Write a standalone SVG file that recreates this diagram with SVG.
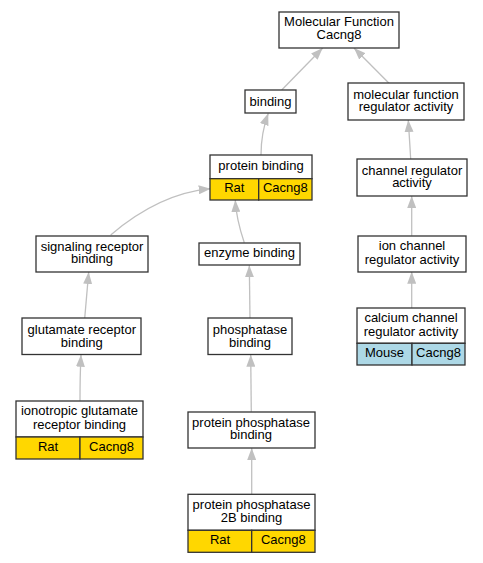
<svg xmlns="http://www.w3.org/2000/svg" width="483" height="563" viewBox="0 0 483 563">
<defs>
<style>
rect{stroke:#333;stroke-width:1.3;fill:#fff}
rect.rat{fill:#ffd700}
rect.mouse{fill:#add8e6}
text{font-family:"Liberation Sans",Arial,sans-serif;font-size:13px;fill:#000;text-anchor:middle}
.e path{fill:none;stroke:#c0c0c0;stroke-width:1.3;marker-end:url(#a)}
</style>
<marker id="a" viewBox="0 0 12 9" refX="12" refY="4.5" markerWidth="12" markerHeight="9" orient="auto" markerUnits="userSpaceOnUse"><path d="M0,0 L12,4.5 L0,9 z" fill="#c0c0c0" stroke="none"/></marker>
</defs>
<rect x="0" y="0" width="483" height="563" style="fill:#fff;stroke:none"/>
<g class="e" id="edges">
<path d="M281.7,90 L322.7,48"/>
<path d="M389,83.3 L354,48"/>
<path d="M261,155 C261,140 264,125 268.3,113.3"/>
<path d="M410.7,159 L408.3,120"/>
<path d="M411.7,235.7 L411.7,196"/>
<path d="M411.7,308 L411.7,271.7"/>
<path d="M110.7,235 C140,210 175,192 210.7,188.7"/>
<path d="M244.3,242.7 C240,230 236,215 235.3,200"/>
<path d="M84.7,318.3 L88.7,272"/>
<path d="M250,318.3 L249.3,265.3"/>
<path d="M80,400.7 C80,380 80.5,365 81,354.7"/>
<path d="M251.3,411.7 L250.7,354.7"/>
<path d="M251.7,494.3 L251.7,448"/>
</g>
<g id="mf"><rect x="279" y="12" width="120" height="36"/><text x="339" y="26.2">Molecular Function<tspan x="339" dy="12.6">Cacng8</tspan></text></g>
<g id="binding"><rect x="245" y="90" width="51" height="23"/><text x="270.5" y="105.5">binding</text></g>
<g id="mfreg"><rect x="348" y="83" width="116" height="37"/><text x="406" y="98.5">molecular function<tspan x="406" dy="12.5">regulator activity</tspan></text></g>
<g id="protbind"><rect x="210" y="155" width="102" height="23.7"/><rect class="rat" x="210" y="178.7" width="48.7" height="21.3"/><rect class="rat" x="258.7" y="178.7" width="53.3" height="21.3"/><text x="261" y="170">protein binding</text><text x="234.3" y="192.3">Rat</text><text x="285.3" y="192.3">Cacng8</text></g>
<g id="chanreg"><rect x="357" y="159" width="110" height="37"/><text x="412" y="174.5">channel regulator<tspan x="412" dy="12.5">activity</tspan></text></g>
<g id="sigrec"><rect x="36" y="236" width="112" height="36"/><text x="92" y="250.5">signaling receptor<tspan x="92" dy="12.5">binding</tspan></text></g>
<g id="enzyme"><rect x="199" y="243" width="101" height="22"/><text x="249.5" y="257">enzyme binding</text></g>
<g id="ionchan"><rect x="358" y="236" width="108" height="36"/><text x="412" y="249.5">ion channel<tspan x="412" dy="14">regulator activity</tspan></text></g>
<g id="glurec"><rect x="22" y="318" width="119" height="36.5"/><text x="81.8" y="333.5">glutamate receptor<tspan x="81.8" dy="13">binding</tspan></text></g>
<g id="phos"><rect x="208" y="318" width="84" height="36.5"/><text x="250" y="333.5">phosphatase<tspan x="250" dy="13">binding</tspan></text></g>
<g id="calcium"><rect x="357" y="308" width="108" height="35.3"/><rect class="mouse" x="357" y="343.3" width="55" height="21.7"/><rect class="mouse" x="412" y="343.3" width="53" height="21.7"/><text x="411" y="321.8">calcium channel<tspan x="411" dy="13.7">regulator activity</tspan></text><text x="384.5" y="357.2">Mouse</text><text x="438.5" y="357.2">Cacng8</text></g>
<g id="ionotropic"><rect x="16" y="401" width="127" height="36"/><rect class="rat" x="16" y="437" width="64" height="22"/><rect class="rat" x="80" y="437" width="63" height="22"/><text x="79.5" y="415.2">ionotropic glutamate<tspan x="79.5" dy="14">receptor binding</tspan></text><text x="48" y="451.2">Rat</text><text x="111.5" y="451.2">Cacng8</text></g>
<g id="protphos"><rect x="188" y="412" width="127" height="36"/><text x="251" y="426.5">protein phosphatase<tspan x="251" dy="12.7">binding</tspan></text></g>
<g id="pp2b"><rect x="188" y="494.3" width="127" height="36"/><rect class="rat" x="188" y="530.3" width="63.7" height="22"/><rect class="rat" x="251.7" y="530.3" width="63.3" height="22"/><text x="251.5" y="509.2">protein phosphatase<tspan x="251.5" dy="13">2B binding</tspan></text><text x="220" y="544.2">Rat</text><text x="283.3" y="544.2">Cacng8</text></g>
</svg>
